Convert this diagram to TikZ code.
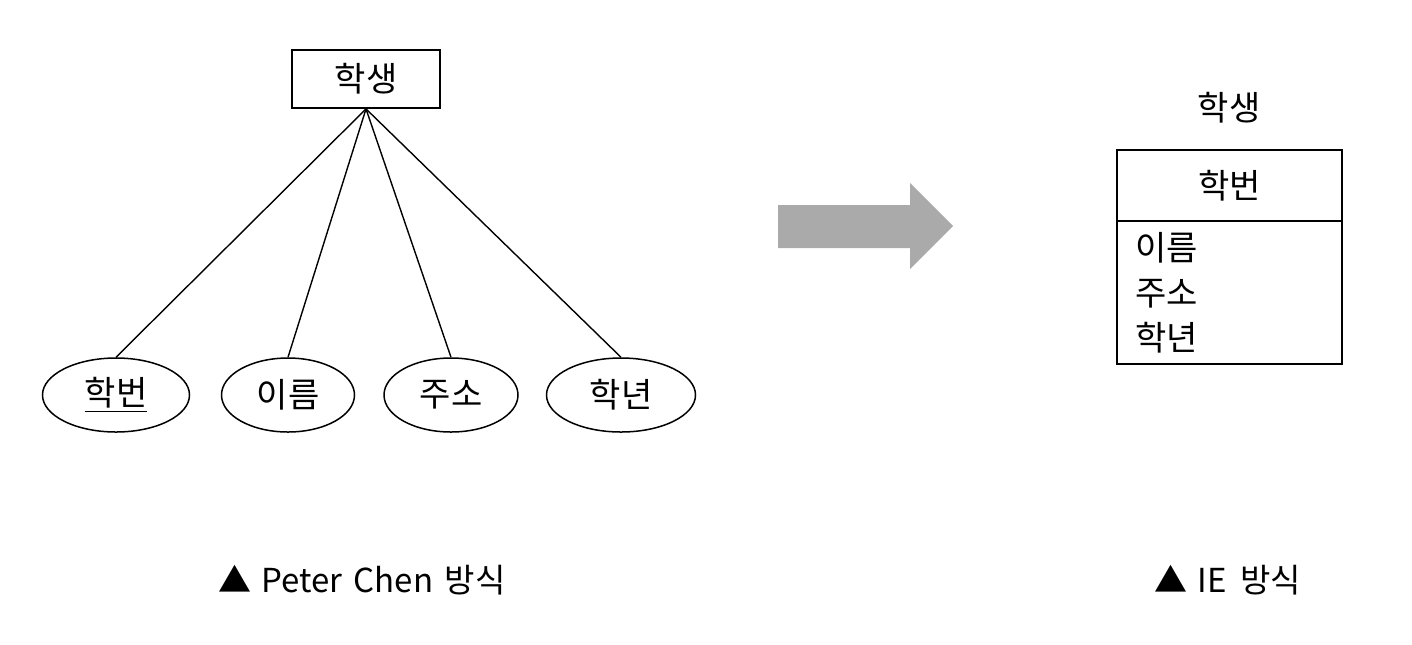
\documentclass[tikz,border=0pt]{standalone}
\usepackage{fontspec}
\setmainfont{Noto Sans CJK KR}
\usepackage{tikz}
\usetikzlibrary{positioning,shapes.geometric}
\definecolor{arrowgray}{RGB}{171,170,170}

\begin{document}
\begin{tikzpicture}[x=0.5pt, y=-0.5pt,
  ent/.style={draw, line width=0.9pt, minimum width=74pt, minimum height=29pt, inner sep=0pt, font=\fontsize{17}{20}\selectfont},
  attr/.style={draw, ellipse, line width=0.75pt, minimum height=37pt, inner sep=0pt, font=\fontsize{17}{20}\selectfont},
  conn/.style={line width=0.7pt},
  tbl/.style={draw, line width=0.9pt, minimum width=112.5pt, inner sep=0pt, font=\fontsize{17}{20}\selectfont},
  capt/.style={font=\fontsize{16.5}{19}\selectfont},
]
\useasboundingbox (0,0) rectangle (1412,644);
% Peter Chen
\node[ent] (stu) at (366,79) {학생};
\foreach \n/\x/\w/\t in {hb/116/147/\underline{학번}, nm/288/133/이름, ad/451/134/주소, yr/621/149/학년} {
  \node[attr, minimum width=\w*0.5pt] (\n) at (\x,395) {\t};
  \draw[conn] (stu.south) -- (\n.north);
}
% arrow
\fill[arrowgray] (778,205) -- (910,205) -- (910,183) -- (953,226) -- (910,269) -- (910,248) -- (778,248) -- cycle;
% IE
\node[font=\fontsize{17}{20}\selectfont] (ttl) at (1229,108) {학생};
\node[tbl, minimum height=35.5pt] (key) at (1229.5,185.5) {학번};
\node[tbl, minimum height=71.4pt, below=-0.9pt of key, text width=94.5pt, inner xsep=9pt, align=left, font=\fontsize{17}{22.5}\selectfont] (rest) {이름\\주소\\학년};
% captions
\node[capt] (capA) at (362,580) {▲\hspace{5pt}Peter\hspace{2pt} Chen\hspace{2pt} 방식};
\node[capt] (capB) at (1228,580) {▲\hspace{5pt}IE\hspace{3pt} 방식};
\end{tikzpicture}
\end{document}
